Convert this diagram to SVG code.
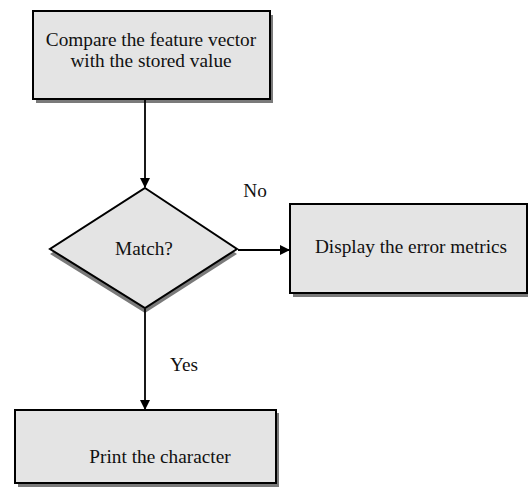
<svg xmlns="http://www.w3.org/2000/svg" width="528" height="487" viewBox="0 0 528 487">
<defs>
<style>
.box{fill:#e4e4e4;stroke:#000;stroke-width:2}
.sh{fill:#7a7a7a}
.t{font-family:"Liberation Serif","Times New Roman",serif;font-size:19.3px;fill:#111;text-anchor:middle}
.c{stroke:#000;stroke-width:1.8;fill:none}
</style>
<marker id="ah" markerWidth="10" markerHeight="10" refX="9" refY="5" orient="auto" markerUnits="userSpaceOnUse">
<path d="M0,0 L10,5 L0,10 Z" fill="#000"/>
</marker>
</defs>
<rect width="528" height="487" fill="#fff"/>
<g id="n1">
<rect class="sh" x="36" y="15" width="237" height="88"/>
<rect class="box" x="33" y="11" width="237" height="88"/>
<text class="t" x="151" y="46">Compare the feature vector</text>
<text class="t" x="151" y="67">with the stored value</text>
</g>
<g id="n2">
<polygon class="sh" points="145,193 237,254 145,313 50,254"/>
<polygon class="box" points="145,188 237,249 145,308 50,249"/>
<text class="t" x="144" y="255">Match?</text>
</g>
<g id="n3">
<rect class="sh" x="293" y="208" width="237" height="89"/>
<rect class="box" x="290" y="204" width="237" height="89"/>
<text class="t" x="411" y="253">Display the error metrics</text>
</g>
<g id="n4">
<rect class="sh" x="18" y="413" width="261" height="74"/>
<rect class="box" x="15" y="410" width="261" height="73"/>
<text class="t" x="160" y="463">Print the character</text>
</g>
<g id="connectors">
<line class="c" x1="145" y1="100" x2="145" y2="187" marker-end="url(#ah)"/>
<line class="c" x1="238" y1="250" x2="289" y2="250" marker-end="url(#ah)"/>
<line class="c" x1="145" y1="309" x2="145" y2="409" marker-end="url(#ah)"/>
<text class="t" x="255" y="197">No</text>
<text class="t" x="184" y="371">Yes</text>
</g>
</svg>
